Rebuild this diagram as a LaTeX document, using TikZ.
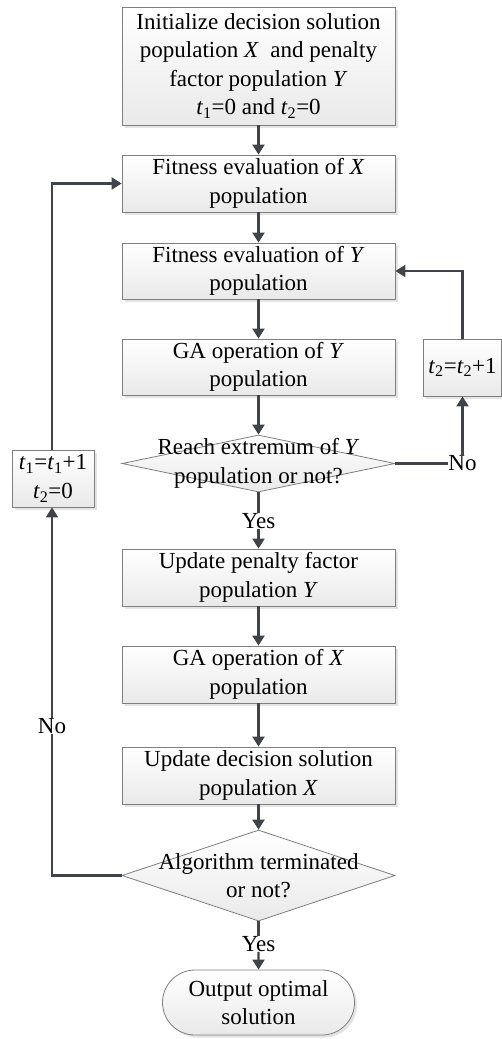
\documentclass[tikz,border=0pt]{standalone}
\usepackage{fontspec}
\setmainfont{Liberation Serif}
\usetikzlibrary{shapes.geometric,shapes.misc,shadows,arrows.meta}
\definecolor{arr}{HTML}{404448}
\definecolor{bord}{HTML}{7F7F7F}
\newcommand{\tA}{\textit{t}\textsubscript{1}}
\newcommand{\tB}{\textit{t}\textsubscript{2}}
\begin{document}
\begin{tikzpicture}[x=1pt,y=-1pt,
  every node/.style={font=\fontsize{23}{28.5}\selectfont, inner sep=0pt},
  boxst/.style={draw=bord, line width=0.8pt, top color=white, bottom color=gray!17,
     drop shadow={shadow xshift=2.5pt, shadow yshift=-2.5pt, fill=gray!35, opacity=0.6},
     minimum width=273pt, align=center},
  dia/.style={diamond, draw=bord, line width=0.8pt, top color=white, bottom color=gray!17,
     minimum width=273pt, aspect=4},
  lbl/.style={align=center},
  conn/.style={draw=arr, line width=2.2pt},
  arw/.style={conn, -{Triangle[length=10pt,width=12pt]}}
]
\useasboundingbox (0,0) rectangle (502,1039);
\node[boxst, minimum height=118pt] (b1) at (258.5,66) {Initialize decision solution\\population \textit{X}\ \ and penalty\\factor population \textit{Y}\\\tA=0 and \tB=0};
\node[boxst, minimum height=57pt] (b2) at (258.5,183.5) {Fitness evaluation of \textit{X}\\population};
\node[boxst, minimum height=56pt] (b3) at (258.5,271) {Fitness evaluation of \textit{Y}\\population};
\node[boxst, minimum height=56pt] (b4) at (258.5,367) {GA operation of \textit{Y}\\population};
\node[dia, minimum height=57pt] (d1) at (258.5,463.5) {};
\node[lbl] (d1t) at (d1) {Reach extremum of \textit{Y}\\population or not?};
\node[boxst, minimum height=57pt] (b5) at (258.5,577.5) {Update penalty factor\\population \textit{Y}};
\node[boxst, minimum height=57pt] (b6) at (258.5,674.5) {GA operation of \textit{X}\\population};
\node[boxst, minimum height=57pt] (b7) at (258.5,775.5) {Update decision solution\\population \textit{X}};
\node[dia, minimum height=91pt, aspect=3] (d2) at (258.5,875.5) {};
\node[lbl] (d2t) at (d2) {Algorithm terminated\\or not?};
\node[rounded rectangle, draw=bord, line width=0.8pt, top color=white, bottom color=gray!17,
     drop shadow={shadow xshift=2.5pt, shadow yshift=-2.5pt, fill=gray!35, opacity=0.6},
     minimum width=192pt, minimum height=65pt, align=center] (term) at (258.5,1002.5) {Output optimal\\solution};
\node[boxst, minimum width=82pt, minimum height=57pt] (t1) at (53,478.5) {\tA=\tA+1\\\tB=0};
\node[boxst, minimum width=78pt, minimum height=57pt] (t2) at (462.5,367.5) {\tB=\tB+1};
\node[lbl] (yes1) at (258.5,521) {Yes};
\node[lbl] (yes2) at (258.5,944) {Yes};
\node[lbl] (no1) at (462.5,463.5) {No};
\node[lbl] (no2) at (52,726) {No};
% main flow
\draw[arw] (b1) -- (b2);
\draw[arw] (b2) -- (b3);
\draw[arw] (b3) -- (b4);
\draw[arw] (b4) -- (d1.north);
\draw[conn] (d1.south) -- (yes1.north);
\draw[arw] (yes1.south) -- (b5);
\draw[arw] (b5) -- (b6);
\draw[arw] (b6) -- (b7);
\draw[arw] (b7) -- (d2.north);
\draw[conn] (d2.south) -- (yes2.north);
\draw[arw] (yes2.south) -- (term);
% right loop
\draw[conn] (d1.east) -- (no1.west);
\draw[arw] (no1.north) -- (t2.south);
\draw[arw] (t2.north) |- (b3.east);
% left loop
\draw[conn] (d2.west) -| (no2.south);
\draw[arw] (no2.north) -- (no2.north |- t1.south);
\draw[arw] (no2 |- t1.north) |- (b2.west);
\end{tikzpicture}
\end{document}
